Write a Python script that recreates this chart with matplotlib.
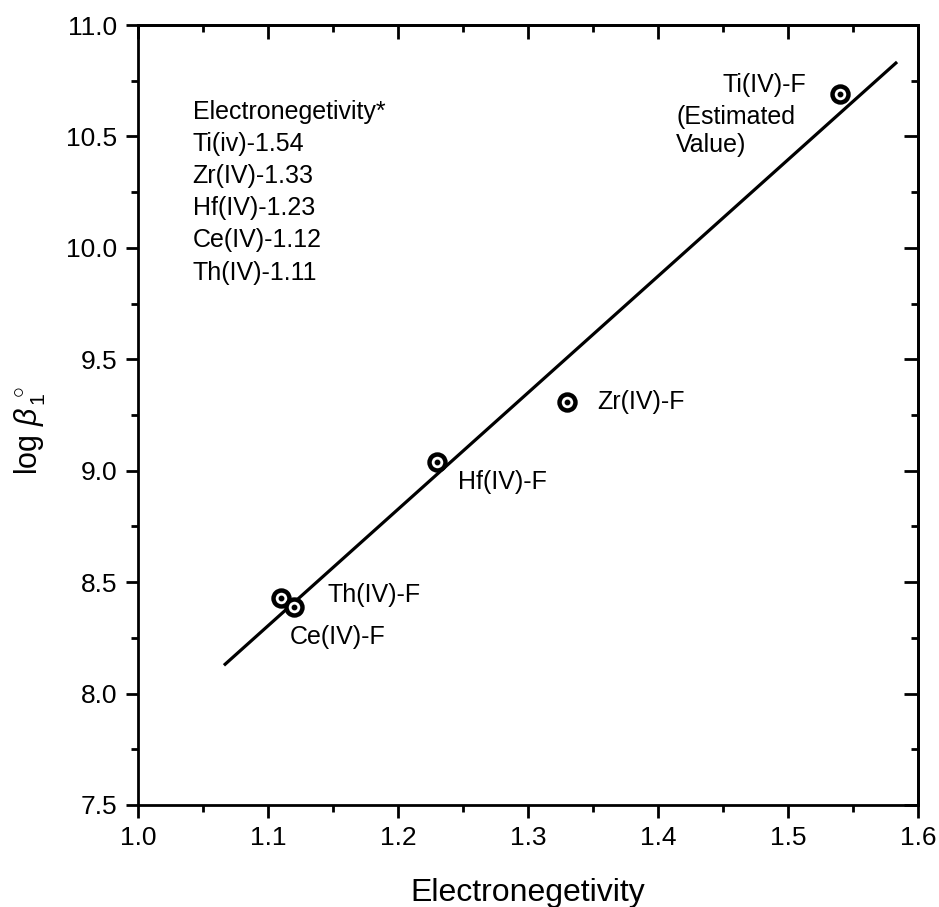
import numpy as np
import matplotlib.pyplot as plt

plt.rcParams['font.family'] = ['Liberation Sans', 'DejaVu Sans']
plt.rcParams['mathtext.fontset'] = 'custom'
plt.rcParams['mathtext.rm'] = 'Liberation Sans'
plt.rcParams['mathtext.it'] = 'Liberation Sans:italic'

# Electronegativity vs. log beta_1 for the M(IV)-F complexes
names = ['Th(IV)-F', 'Ce(IV)-F', 'Hf(IV)-F', 'Zr(IV)-F', 'Ti(IV)-F']
eneg = np.array([1.11, 1.12, 1.23, 1.33, 1.54])
logb = np.array([8.43, 8.39, 9.04, 9.31, 10.69])

# linear fit drawn over this electronegativity range
fit_range = [1.067, 1.583]

info_lines = ['Electronegetivity*', 'Ti(iv)-1.54', 'Zr(IV)-1.33',
              'Hf(IV)-1.23', 'Ce(IV)-1.12', 'Th(IV)-1.11']

fig = plt.figure(figsize=(9.39, 9.07), dpi=100)
ax = fig.add_axes([0.147, 0.1125, 0.8306, 0.8599])

slope, icpt = np.polyfit(eneg, logb, 1)
xf = np.array(fit_range)
ax.plot(xf, slope * xf + icpt, color='black', lw=2.3)

ax.plot(eneg, logb, 'o', ms=11.5, mfc='white', mec='black', mew=3.2)
ax.plot(eneg, logb, 'o', ms=3.2, color='black')

fs = 18
ax.text(1.45, 10.73, 'Ti(IV)-F', fontsize=fs, va='center')
ax.text(1.414, 10.524, '(Estimated\nValue)', fontsize=fs, va='center', linespacing=1.2)
ax.text(1.353, 9.31, 'Zr(IV)-F', fontsize=fs, va='center')
ax.text(1.246, 8.95, 'Hf(IV)-F', fontsize=fs, va='center')
ax.text(1.146, 8.442, 'Th(IV)-F', fontsize=fs, va='center')
ax.text(1.117, 8.254, 'Ce(IV)-F', fontsize=fs, va='center')

ax.text(1.042, 10.665, '\n'.join(info_lines), fontsize=18, va='top',
        linespacing=1.43)

ax.set_xlim(1.0, 1.6)
ax.set_ylim(7.5, 11.0)
ax.set_xticks(np.arange(1.0, 1.61, 0.1))
ax.set_xticks(np.arange(1.05, 1.6, 0.1), minor=True)
ax.set_yticks(np.arange(7.5, 11.01, 0.5))
ax.set_yticks(np.arange(7.75, 11.0, 0.5), minor=True)
ax.set_xticklabels(['%.1f' % v for v in np.arange(1.0, 1.61, 0.1)])
ax.set_yticklabels(['%.1f' % v for v in np.arange(7.5, 11.01, 0.5)])

for s in ax.spines.values():
    s.set_linewidth(2.0)

ax.tick_params(axis='both', which='both', direction='out', width=2.0,
               labelsize=19, top=False, right=False)
ax.tick_params(which='major', length=9, pad=6)
ax.tick_params(which='minor', length=5)

# inward ticks on top and right
axt = ax.secondary_xaxis('top')
axt.set_xticks(ax.get_xticks())
axt.set_xticks(ax.get_xticks(minor=True), minor=True)
axt.tick_params(which='both', direction='in', width=2.0, labeltop=False)
axt.tick_params(which='major', length=10)
axt.tick_params(which='minor', length=5)
axt.set_xticklabels([])
axr = ax.secondary_yaxis('right')
axr.set_yticks(ax.get_yticks())
axr.set_yticks(ax.get_yticks(minor=True), minor=True)
axr.tick_params(which='both', direction='in', width=2.0)
axr.tick_params(which='major', length=10)
axr.tick_params(which='minor', length=5)
axr.set_yticklabels([])
for a in (axt, axr):
    for s in a.spines.values():
        s.set_linewidth(2.0)

ax.set_xlabel('Electronegetivity', fontsize=23, labelpad=20)
ax.set_ylabel(r'log $\mathit{\beta}_{\,\mathrm{1}}^{\;\circ}$', fontsize=22, labelpad=12)
ax.yaxis.set_label_coords(-0.116, 0.48)

fig.savefig('out.png', dpi=100)
